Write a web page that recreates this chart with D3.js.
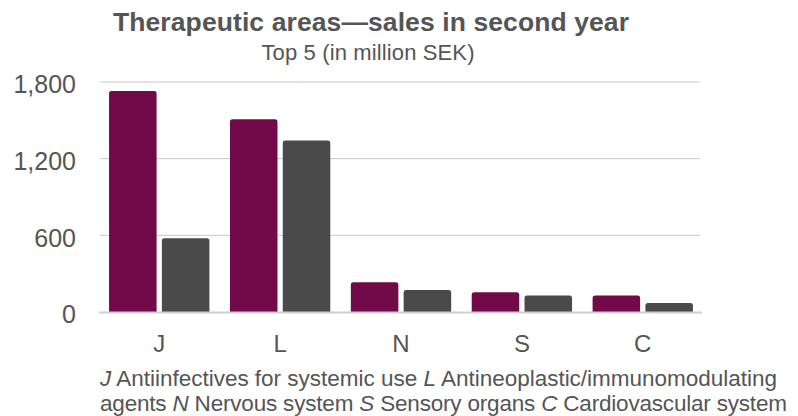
<!DOCTYPE html>
<html><head><meta charset="utf-8">
<script src="https://cdn.jsdelivr.net/npm/d3@7"></script>
<style>body{margin:0;background:#fff}svg{display:block;font-family:"Liberation Sans",Arial,sans-serif}</style>
</head><body><svg id="c" width="798" height="416"></svg>
<script>
const categories = ["J","L","N","S","C"];
const series1 = [1730, 1508, 232, 154, 130];
const series2 = [577, 1343, 172, 130, 70];
const yTicks = [0, 600, 1200, 1800];
const colors = ["#720a4a", "#4a4a4a"];
const title = "Therapeutic areas\u2014sales in second year";
const subtitle = "Top 5 (in million SEK)";

const svg = d3.select("#c");
const pLeft = 100, pRight = 702, pTop = 82, pBottom = 312;
const x0 = d3.scaleBand().domain(categories).range([pLeft, pRight]).paddingInner(0.17).paddingOuter(0.075);
const x1 = d3.scaleBand().domain([0,1]).range([0, x0.bandwidth()]).paddingInner(0.1);
const y = d3.scaleLinear().domain([0,1800]).range([pBottom, pTop]);

// gridlines
svg.append("g").selectAll("line").data(yTicks.filter(d=>d>0)).join("line")
  .attr("x1", pLeft).attr("x2", pRight-2).attr("y1", d=>y(d)).attr("y2", d=>y(d))
  .attr("stroke", "#c8c8c8").attr("stroke-width", 1);

// y labels
const yAxis = d3.axisLeft(y).tickValues(yTicks).tickFormat(d3.format(",")).tickSize(0).tickPadding(0);
const ya = svg.append("g").attr("transform", "translate(76,2)").call(yAxis);
ya.select(".domain").remove();
ya.selectAll("text").attr("font-size", 25).attr("fill", "#555").attr("font-family", "'Liberation Sans',Arial,sans-serif").attr("dy", "0.35em");

// bars
function topRounded(x, yT, w, h, r) {
  r = Math.min(r, h, w/2);
  return `M${x},${yT+h}V${yT+r}Q${x},${yT} ${x+r},${yT}H${x+w-r}Q${x+w},${yT} ${x+w},${yT+r}V${yT+h}Z`;
}
const data = categories.map((c,i)=>({c, v:[series1[i], series2[i]]}));
const g = svg.append("g").selectAll("g").data(data).join("g").attr("transform", d=>`translate(${x0(d.c)},0)`);
g.selectAll("path").data(d=>d.v.map((v,k)=>({v,k}))).join("path")
  .attr("d", d=>topRounded(x1(d.k), y(d.v), x1.bandwidth(), pBottom - y(d.v), 2.5))
  .attr("fill", d=>colors[d.k]);

// baseline
svg.append("line").attr("x1", pLeft-1).attr("x2", pRight).attr("y1", pBottom+0.5).attr("y2", pBottom+0.5)
  .attr("stroke", "#cfcfcf").attr("stroke-width", 2);

// x labels
const xAxis = d3.axisBottom(x0).tickSize(0).tickPadding(0);
const xa = svg.append("g").attr("transform", `translate(0,352)`).call(xAxis);
xa.select(".domain").remove();
xa.selectAll("text").attr("font-size", 24).attr("fill", "#555").attr("dy", 0).attr("y", 0)
  .attr("font-family", "'Liberation Sans',Arial,sans-serif");

// titles
svg.append("text").attr("x", 371).attr("y", 31).attr("text-anchor", "middle")
  .attr("font-size", 26.5).attr("font-weight", "bold").attr("fill", "#555")
  .attr("textLength", 516).attr("lengthAdjust", "spacing").text(title);
svg.append("text").attr("x", 368).attr("y", 60).attr("text-anchor", "middle")
  .attr("font-size", 22).attr("fill", "#555")
  .attr("textLength", 213).attr("lengthAdjust", "spacing").text(subtitle);

// footnote
const notes = [
  [["J",true],[" Antiinfectives for systemic use ",false],["L",true],[" Antineoplastic/immunomodulating",false]],
  [["agents ",false],["N",true],[" Nervous system ",false],["S",true],[" Sensory organs ",false],["C",true],[" Cardiovascular system",false]]
];
const noteWidths = [677, 687];
notes.forEach((line, i) => {
  const t = svg.append("text").attr("x", 100).attr("y", 386 + i*25).attr("font-size", 22.5).attr("fill", "#555")
    .attr("textLength", noteWidths[i]).attr("lengthAdjust", "spacing");
  line.forEach(([s, it]) => t.append("tspan").attr("font-style", it ? "italic" : "normal").text(s));
});
</script></body></html>
